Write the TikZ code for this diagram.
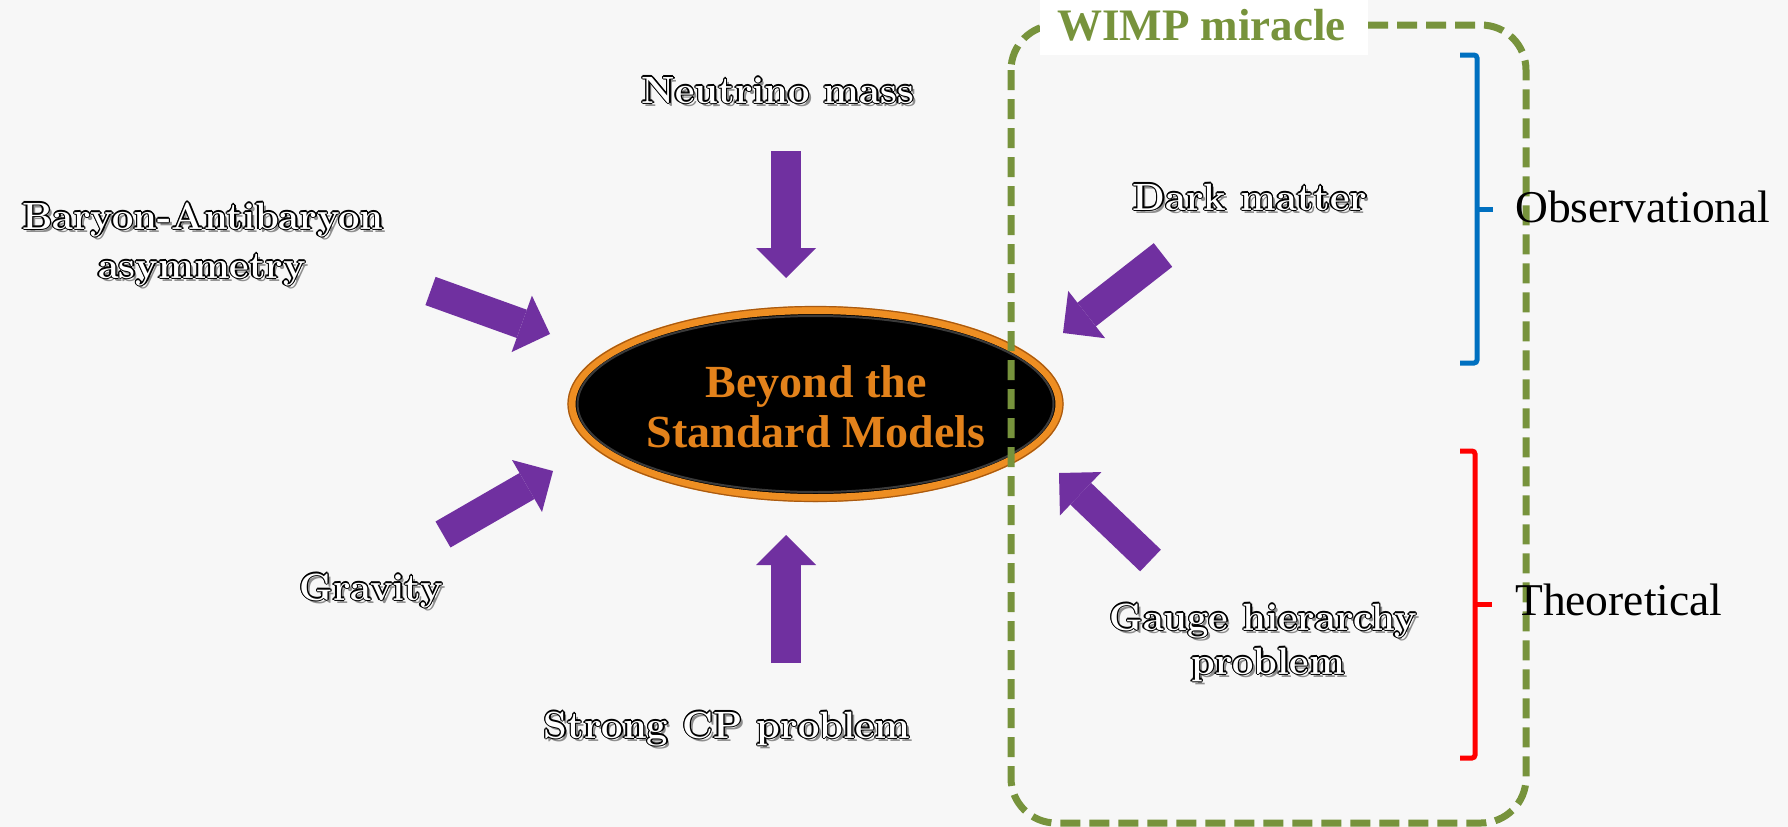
\documentclass[tikz,border=0pt]{standalone}
\usepackage{fontspec}
\usetikzlibrary{shapes.geometric,arrows.meta}
\newfontfamily\libserif{Liberation Serif}
\definecolor{apurple}{HTML}{7030A0}
\definecolor{olivec}{HTML}{77933C}
\definecolor{otext}{HTML}{E3821B}
\definecolor{rimc}{HTML}{EE8E22}
\definecolor{rimdark}{HTML}{A85A12}
\definecolor{ringc}{HTML}{3A3A3A}
\definecolor{bluec}{HTML}{0070C0}
\definecolor{redc}{HTML}{FF0000}
\definecolor{bgc}{HTML}{F7F7F7}
\definecolor{shadowc}{HTML}{8E8E8E}
\tikzset{
  olbl/.style={font=\fontsize{38}{44}\selectfont\bfseries, anchor=base, inner sep=0pt},
  barrow/.style={line width=30pt, draw=apurple, -{Triangle[length=30pt,width=60pt,line width=0pt]}},
  bracket/.style={line width=5pt, rounded corners=3pt},
  sidelbl/.style={font=\libserif\fontsize{45.5}{50}\selectfont, anchor=base west, inner sep=0pt, text=black},
  bsmtext/.style={font=\libserif\bfseries\fontsize{46}{50}\selectfont, text=otext, anchor=base, inner sep=0pt},
  wimpbox/.style={draw=olivec, line width=7pt, dash pattern=on 20pt off 9pt, rounded corners=45pt},
}
\newcommand\olabel[4]{%
  \node[olbl, text=shadowc] (#1s) at (#2+3,#3+3) {#4};
  \foreach \a in {0,45,...,315} {\node[olbl, text=black, shift={(\a:1.4)}] at (#2,#3) {#4};}
  \node[olbl, text=white] (#1) at (#2,#3) {#4};
}
\begin{document}
\begin{tikzpicture}[x=1pt,y=-1pt]
\useasboundingbox (0,0) rectangle (1788,827);
\fill[bgc] (0,0) rectangle (1788,827);

% central ellipse
\node[ellipse, draw=rimc, line width=8pt, fill=black, minimum width=488pt, minimum height=188pt, inner sep=0pt] (bsm) at (815.5,404) {};
\draw[rimdark, line width=1.2pt] (bsm.center) ellipse [x radius=247.5, y radius=97.5];
\draw[ringc, line width=2pt] (bsm.center) ellipse [x radius=238, y radius=88];
\node[bsmtext] (bsm1) at (816,397) {Beyond the};
\node[bsmtext] (bsm2) at (816,447) {Standard Models};

% arrows
\coordinate (nmT) at (786,151);   \coordinate (nmH) at (786,278);
\coordinate (scT) at (786,663);   \coordinate (scH) at (786,535);
\coordinate (baT) at (430.5,291); \coordinate (baH) at (550,334);
\coordinate (grT) at (443,534.5); \coordinate (grH) at (553,471);
\coordinate (dmT) at (1163,255);  \coordinate (dmH) at (1063,333);
\coordinate (ghT) at (1150.5,560.5); \coordinate (ghH) at (1059,473);
\draw[barrow] (nmT) -- (nmH);
\draw[barrow] (scT) -- (scH);
\draw[barrow] (baT) -- (baH);
\draw[barrow] (grT) -- (grH);
\draw[barrow] (dmT) -- (dmH);
\draw[barrow] (ghT) -- (ghH);

% WIMP box
\draw[wimpbox] (1011,25) rectangle (1526,823);
\fill[white] (1040,0) rectangle (1368,55);
\node[font=\libserif\bfseries\fontsize{45}{50}\selectfont, text=olivec, anchor=base west, inner sep=0pt] (wimp) at (1057,40) {WIMP miracle};

% brackets
\draw[bracket, bluec] (1460,55) -- (1477,55) -- (1477,363) -- (1460,363);
\draw[bracket, bluec] (1477,209) -- (1493,209);
\draw[bracket, redc] (1460,451) -- (1475,451) -- (1475,758) -- (1460,758);
\draw[bracket, redc] (1475,604) -- (1492,604);
\node[sidelbl] (obs) at (1515,222) {Observational};
\node[sidelbl] (theo) at (1515,615) {Theoretical};

% outlined labels
\olabel{nm}{778}{103}{Neutrino mass}
\olabel{ba1}{203}{229}{Baryon-Antibaryon}
\olabel{ba2}{202}{278}{asymmetry}
\olabel{gr}{371}{600}{Gravity}
\olabel{sc}{727}{738}{Strong CP problem}
\olabel{dm}{1250}{210}{Dark matter}
\olabel{gh1}{1263}{630}{Gauge hierarchy}
\olabel{gh2}{1268}{674}{problem}
\end{tikzpicture}
\end{document}
